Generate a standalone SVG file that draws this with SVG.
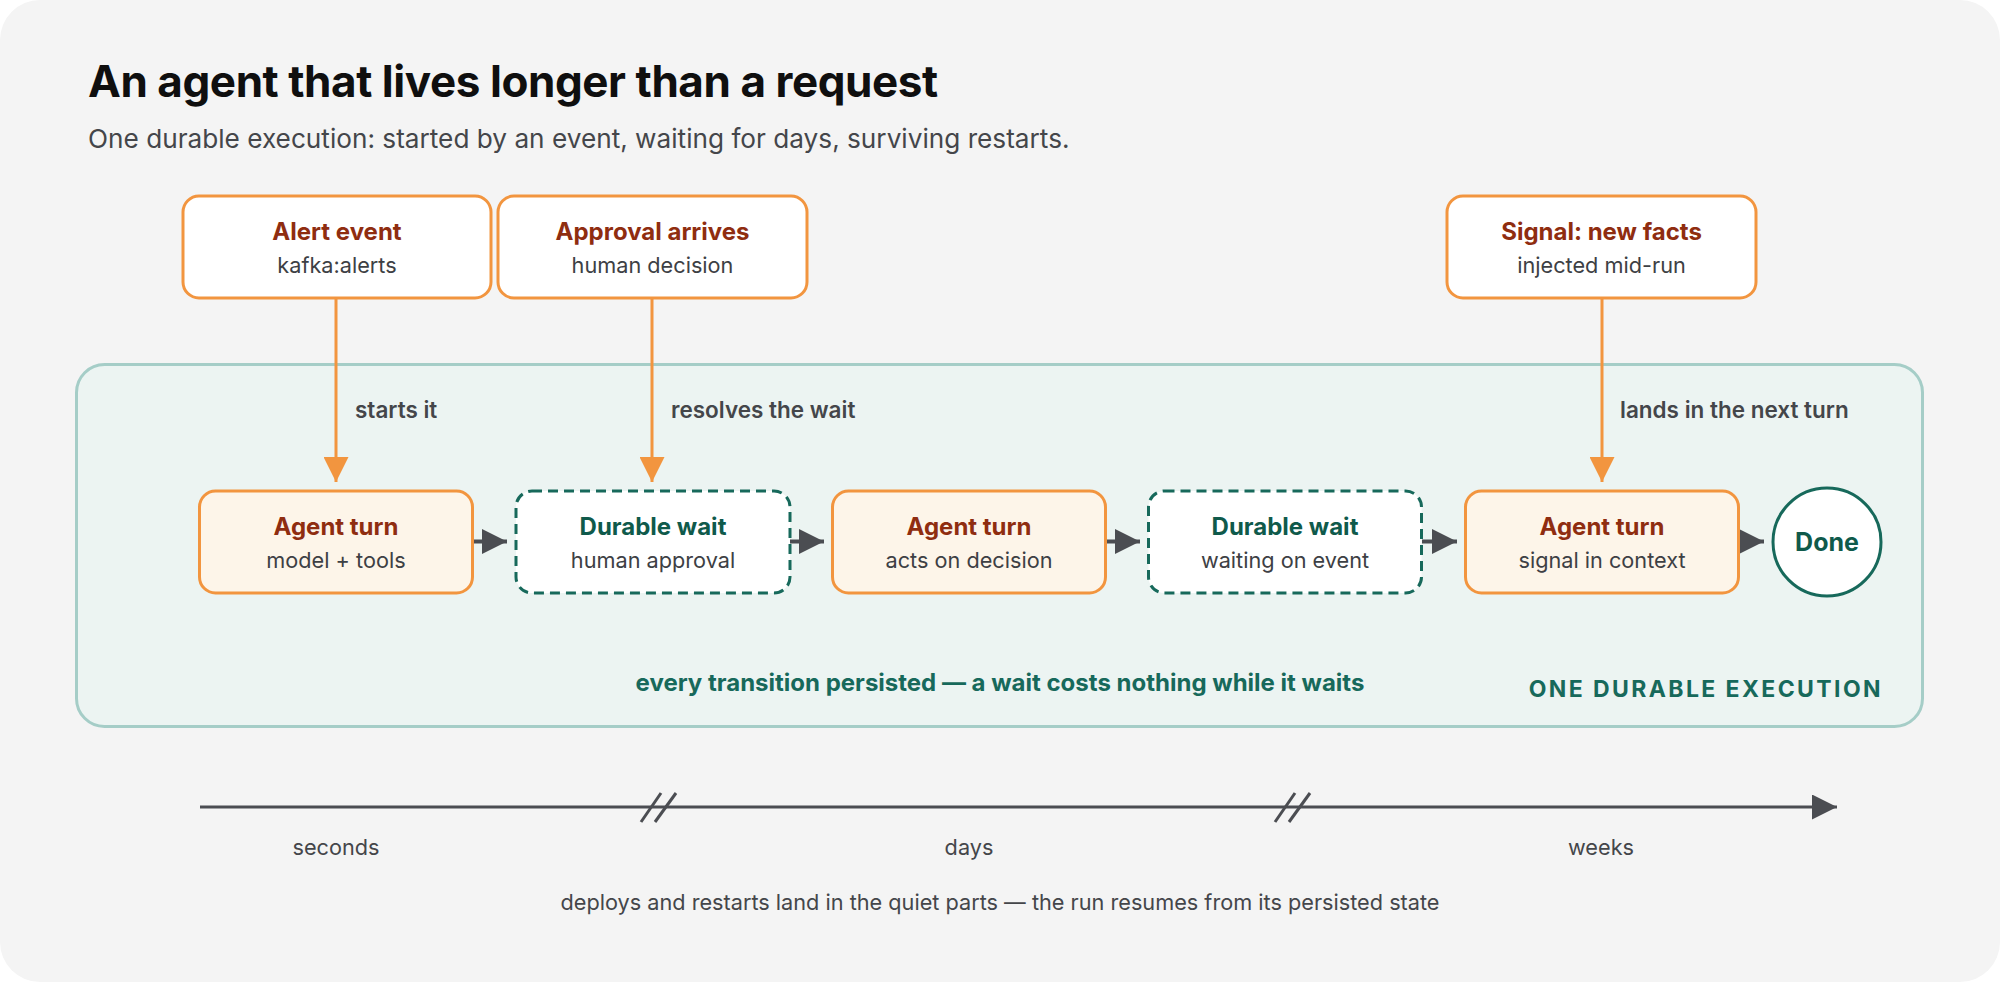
<svg xmlns="http://www.w3.org/2000/svg" width="2000" height="982" viewBox="0 0 2000 982">
<defs>
<style>
.t{font-family:Inter,"Liberation Sans",sans-serif;}
.title{font-size:44px;font-weight:700;fill:#0f0f0f;letter-spacing:-0.43px;}
.sub{font-size:26.2px;font-weight:400;fill:#44464a;}
.ht{font-size:24px;font-weight:700;text-anchor:middle;}
.red{fill:#8f2d10;}
.teal{fill:#0f5a4b;}
.st{font-size:21.7px;font-weight:400;fill:#3d4044;text-anchor:middle;}
.lbl{font-size:22.5px;font-weight:600;fill:#44464a;}
.ev{fill:#ffffff;stroke:#f2953f;stroke-width:3;}
.turn{fill:#fdf5e9;stroke:#f2953f;stroke-width:3;}
.wait{fill:#ffffff;stroke:#17695b;stroke-width:3;stroke-dasharray:10 6;}
.down{stroke:#f2953f;stroke-width:3;fill:none;}
.flow{stroke:#4b4d52;stroke-width:4;fill:none;}
.ax{font-size:21.7px;font-weight:400;fill:#44464a;text-anchor:middle;}
</style>
<marker id="ho" viewBox="0 0 25 25" refX="25" refY="12.5" markerWidth="25" markerHeight="25" markerUnits="userSpaceOnUse" orient="auto"><path d="M0,0 L25,12.5 L0,25 Z" fill="#f2953f"/></marker>
<marker id="hg" viewBox="0 0 25 25" refX="25" refY="12.5" markerWidth="25" markerHeight="25" markerUnits="userSpaceOnUse" orient="auto"><path d="M0,0 L25,12.5 L0,25 Z" fill="#4b4d52"/></marker>
</defs>
<rect x="0" y="0" width="2000" height="982" fill="#ffffff"/>
<rect x="0" y="0" width="2000" height="982" rx="40" fill="#f4f4f4"/>
<text class="t title" x="88" y="97">An agent that lives longer than a request</text>
<text class="t sub" x="88" y="147.5">One durable execution: started by an event, waiting for days, surviving restarts.</text>

<g id="container">
<rect x="76.5" y="364.5" width="1846" height="362" rx="28" fill="#ecf4f2" stroke="#a5cdc7" stroke-width="3"/>
<text class="t" x="1000" y="691" text-anchor="middle" font-size="24" font-weight="700" fill="#17695b">every transition persisted — a wait costs nothing while it waits</text>
<text class="t" x="1883" y="697" text-anchor="end" font-size="23" font-weight="700" fill="#17695b" letter-spacing="2.4">ONE DURABLE EXECUTION</text>
</g>

<g id="connectors">
<line class="down" x1="336" y1="298" x2="336" y2="482" marker-end="url(#ho)"/>
<line class="down" x1="652" y1="298" x2="652" y2="482" marker-end="url(#ho)"/>
<line class="down" x1="1602" y1="298" x2="1602" y2="482" marker-end="url(#ho)"/>
<text class="t lbl" x="355" y="418">starts it</text>
<text class="t lbl" x="671" y="418">resolves the wait</text>
<text class="t lbl" x="1620" y="418">lands in the next turn</text>
<line class="flow" x1="473" y1="541.5" x2="507" y2="541.5" marker-end="url(#hg)"/>
<line class="flow" x1="790" y1="541.5" x2="824" y2="541.5" marker-end="url(#hg)"/>
<line class="flow" x1="1106" y1="541.5" x2="1140" y2="541.5" marker-end="url(#hg)"/>
<line class="flow" x1="1422" y1="541.5" x2="1457" y2="541.5" marker-end="url(#hg)"/>
<line class="flow" x1="1739" y1="541.5" x2="1764" y2="541.5" marker-end="url(#hg)"/>
</g>

<g id="alert-event">
<rect class="ev" x="183" y="196" width="308" height="102" rx="16"/>
<text class="t ht red" x="337" y="240">Alert event</text>
<text class="t st" x="337" y="273">kafka:alerts</text>
</g>
<g id="approval-arrives">
<rect class="ev" x="498" y="196" width="309" height="102" rx="16"/>
<text class="t ht red" x="652.5" y="240">Approval arrives</text>
<text class="t st" x="652.5" y="273">human decision</text>
</g>
<g id="signal-new-facts">
<rect class="ev" x="1447" y="196" width="309" height="102" rx="16"/>
<text class="t ht red" x="1601.5" y="240">Signal: new facts</text>
<text class="t st" x="1601.5" y="273">injected mid-run</text>
</g>

<g id="agent-turn-1">
<rect class="turn" x="199.5" y="491" width="273" height="102" rx="16"/>
<text class="t ht red" x="336" y="535">Agent turn</text>
<text class="t st" x="336" y="568">model + tools</text>
</g>
<g id="durable-wait-1">
<rect class="wait" x="516" y="491" width="274" height="102" rx="16"/>
<text class="t ht teal" x="653" y="535">Durable wait</text>
<text class="t st" x="653" y="568">human approval</text>
</g>
<g id="agent-turn-2">
<rect class="turn" x="832.5" y="491" width="273" height="102" rx="16"/>
<text class="t ht red" x="969" y="535">Agent turn</text>
<text class="t st" x="969" y="568">acts on decision</text>
</g>
<g id="durable-wait-2">
<rect class="wait" x="1148.5" y="491" width="273" height="102" rx="16"/>
<text class="t ht teal" x="1285" y="535">Durable wait</text>
<text class="t st" x="1285" y="568">waiting on event</text>
</g>
<g id="agent-turn-3">
<rect class="turn" x="1465.5" y="491" width="273" height="102" rx="16"/>
<text class="t ht red" x="1602" y="535">Agent turn</text>
<text class="t st" x="1602" y="568">signal in context</text>
</g>
<g id="done">
<circle cx="1827" cy="542" r="54" fill="#ffffff" stroke="#17695b" stroke-width="3"/>
<text class="t" x="1827" y="551" text-anchor="middle" font-size="25" font-weight="700" fill="#0f5a4b">Done</text>
</g>

<g id="timeline">
<line x1="200" y1="807" x2="1837" y2="807" stroke="#4b4d52" stroke-width="3" marker-end="url(#hg)"/>
<line x1="661" y1="793" x2="641" y2="822" stroke="#4b4d52" stroke-width="3"/>
<line x1="676" y1="793" x2="655" y2="822" stroke="#4b4d52" stroke-width="3"/>
<line x1="1295" y1="793" x2="1275" y2="822" stroke="#4b4d52" stroke-width="3"/>
<line x1="1310" y1="793" x2="1289" y2="822" stroke="#4b4d52" stroke-width="3"/>
<text class="t ax" x="336" y="855">seconds</text>
<text class="t ax" x="969" y="855">days</text>
<text class="t ax" x="1601" y="855">weeks</text>
<text class="t ax" x="1000" y="910">deploys and restarts land in the quiet parts — the run resumes from its persisted state</text>
</g>
</svg>
